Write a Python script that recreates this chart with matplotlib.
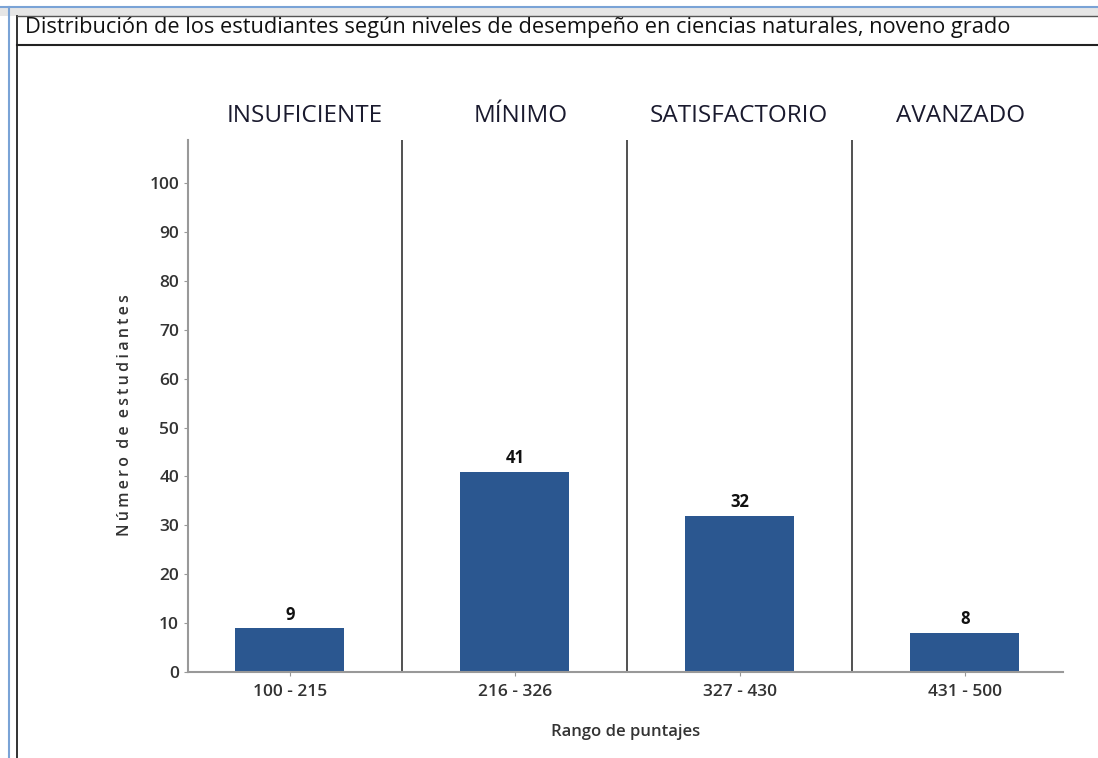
import matplotlib.pyplot as plt
from matplotlib.lines import Line2D
from matplotlib.patches import Rectangle

# data
rangos = ['100 - 215', '216 - 326', '327 - 430', '431 - 500']
niveles = ['INSUFICIENTE', 'MÍNIMO', 'SATISFACTORIO', 'AVANZADO']
estudiantes = [9, 41, 32, 8]
yticks = [0, 10, 20, 30, 40, 50, 60, 70, 80, 90, 100]

W, H = 1098, 758
fig = plt.figure(figsize=(W / 100, H / 100), dpi=100)


def fx(px):
    return px / W


def fy(py):
    return 1 - py / H


# window frame like the screenshot
fig.add_artist(Rectangle((0, fy(16)), 1, fy(7) - fy(16), transform=fig.transFigure,
                         facecolor='#e6e6e6', edgecolor='none'))
fig.add_artist(Line2D([0, 1], [fy(7), fy(7)], transform=fig.transFigure, color='#7aa3d6', lw=1.5))
fig.add_artist(Line2D([fx(9), fx(9)], [fy(7), 0], transform=fig.transFigure, color='#7aa3d6', lw=1.5))
fig.add_artist(Line2D([fx(17), fx(17)], [fy(16), 0], transform=fig.transFigure, color='#222222', lw=1.3))
fig.add_artist(Line2D([fx(17), 1], [fy(16), fy(16)], transform=fig.transFigure, color='#555555', lw=1))
fig.add_artist(Line2D([fx(17), 1], [fy(45), fy(45)], transform=fig.transFigure, color='#222222', lw=1.5))

fig.text(fx(25), fy(28), 'Distribución de los estudiantes según niveles de desempeño en ciencias naturales, noveno grado',
         family='Open Sans', fontsize=15.7, color='#111111', va='center', ha='left')

ax = fig.add_axes([fx(188), fy(672), fx(1063) - fx(188), fy(140) - fy(672)])
x = list(range(len(rangos)))
ax.bar(x, estudiantes, width=0.485, color='#2b5790', zorder=2)
for xi, v in zip(x, estudiantes):
    ax.text(xi, v + 0.9, str(v), ha='center', va='bottom', fontsize=12, fontweight='bold',
            family='Open Sans', color='#111111')

for xi in [0.5, 1.5, 2.5]:
    ax.axvline(xi, color='#333333', lw=1.2, zorder=1)

# header offsets (axis units) to place the level names as in the original
shift = [0.067, 0.027, -0.004, -0.018]
for xi, nivel, s in zip(x, niveles, shift):
    ax.text(xi + s, 1.046, nivel, transform=ax.get_xaxis_transform(), ha='center', va='center',
            fontsize=17.5, family='Open Sans', color='#1a1a2e')

ax.set_xlim(-0.453, 3.436)
ax.set_ylim(0, 108.8)
ax.set_xticks(x)
ax.set_xticklabels(rangos)
ax.set_yticks(yticks)
ax.tick_params(axis='both', length=3, color='#999999', labelsize=12.5, labelcolor='#333333')
ax.tick_params(axis='x', pad=6)
for lab in ax.get_xticklabels() + ax.get_yticklabels():
    lab.set_family('Open Sans')
    lab.set_fontweight('semibold')

for side in ['top', 'right']:
    ax.spines[side].set_visible(False)
for side in ['left', 'bottom']:
    ax.spines[side].set_color('#999999')
    ax.spines[side].set_linewidth(1.5)

ax.set_xlabel('Rango de puntajes', family='Open Sans', fontsize=12, fontweight='semibold',
              color='#333333', labelpad=17)
ylab = '  '.join('\u2009'.join(w) for w in ['Número', 'de', 'estudiantes'])
ax.set_ylabel(ylab, family=['Open Sans', 'DejaVu Sans'], fontsize=11.5,
              fontweight='semibold', color='#333333')
ax.yaxis.set_label_coords(-0.063, 0.483)

fig.savefig('out.png', dpi=100)
